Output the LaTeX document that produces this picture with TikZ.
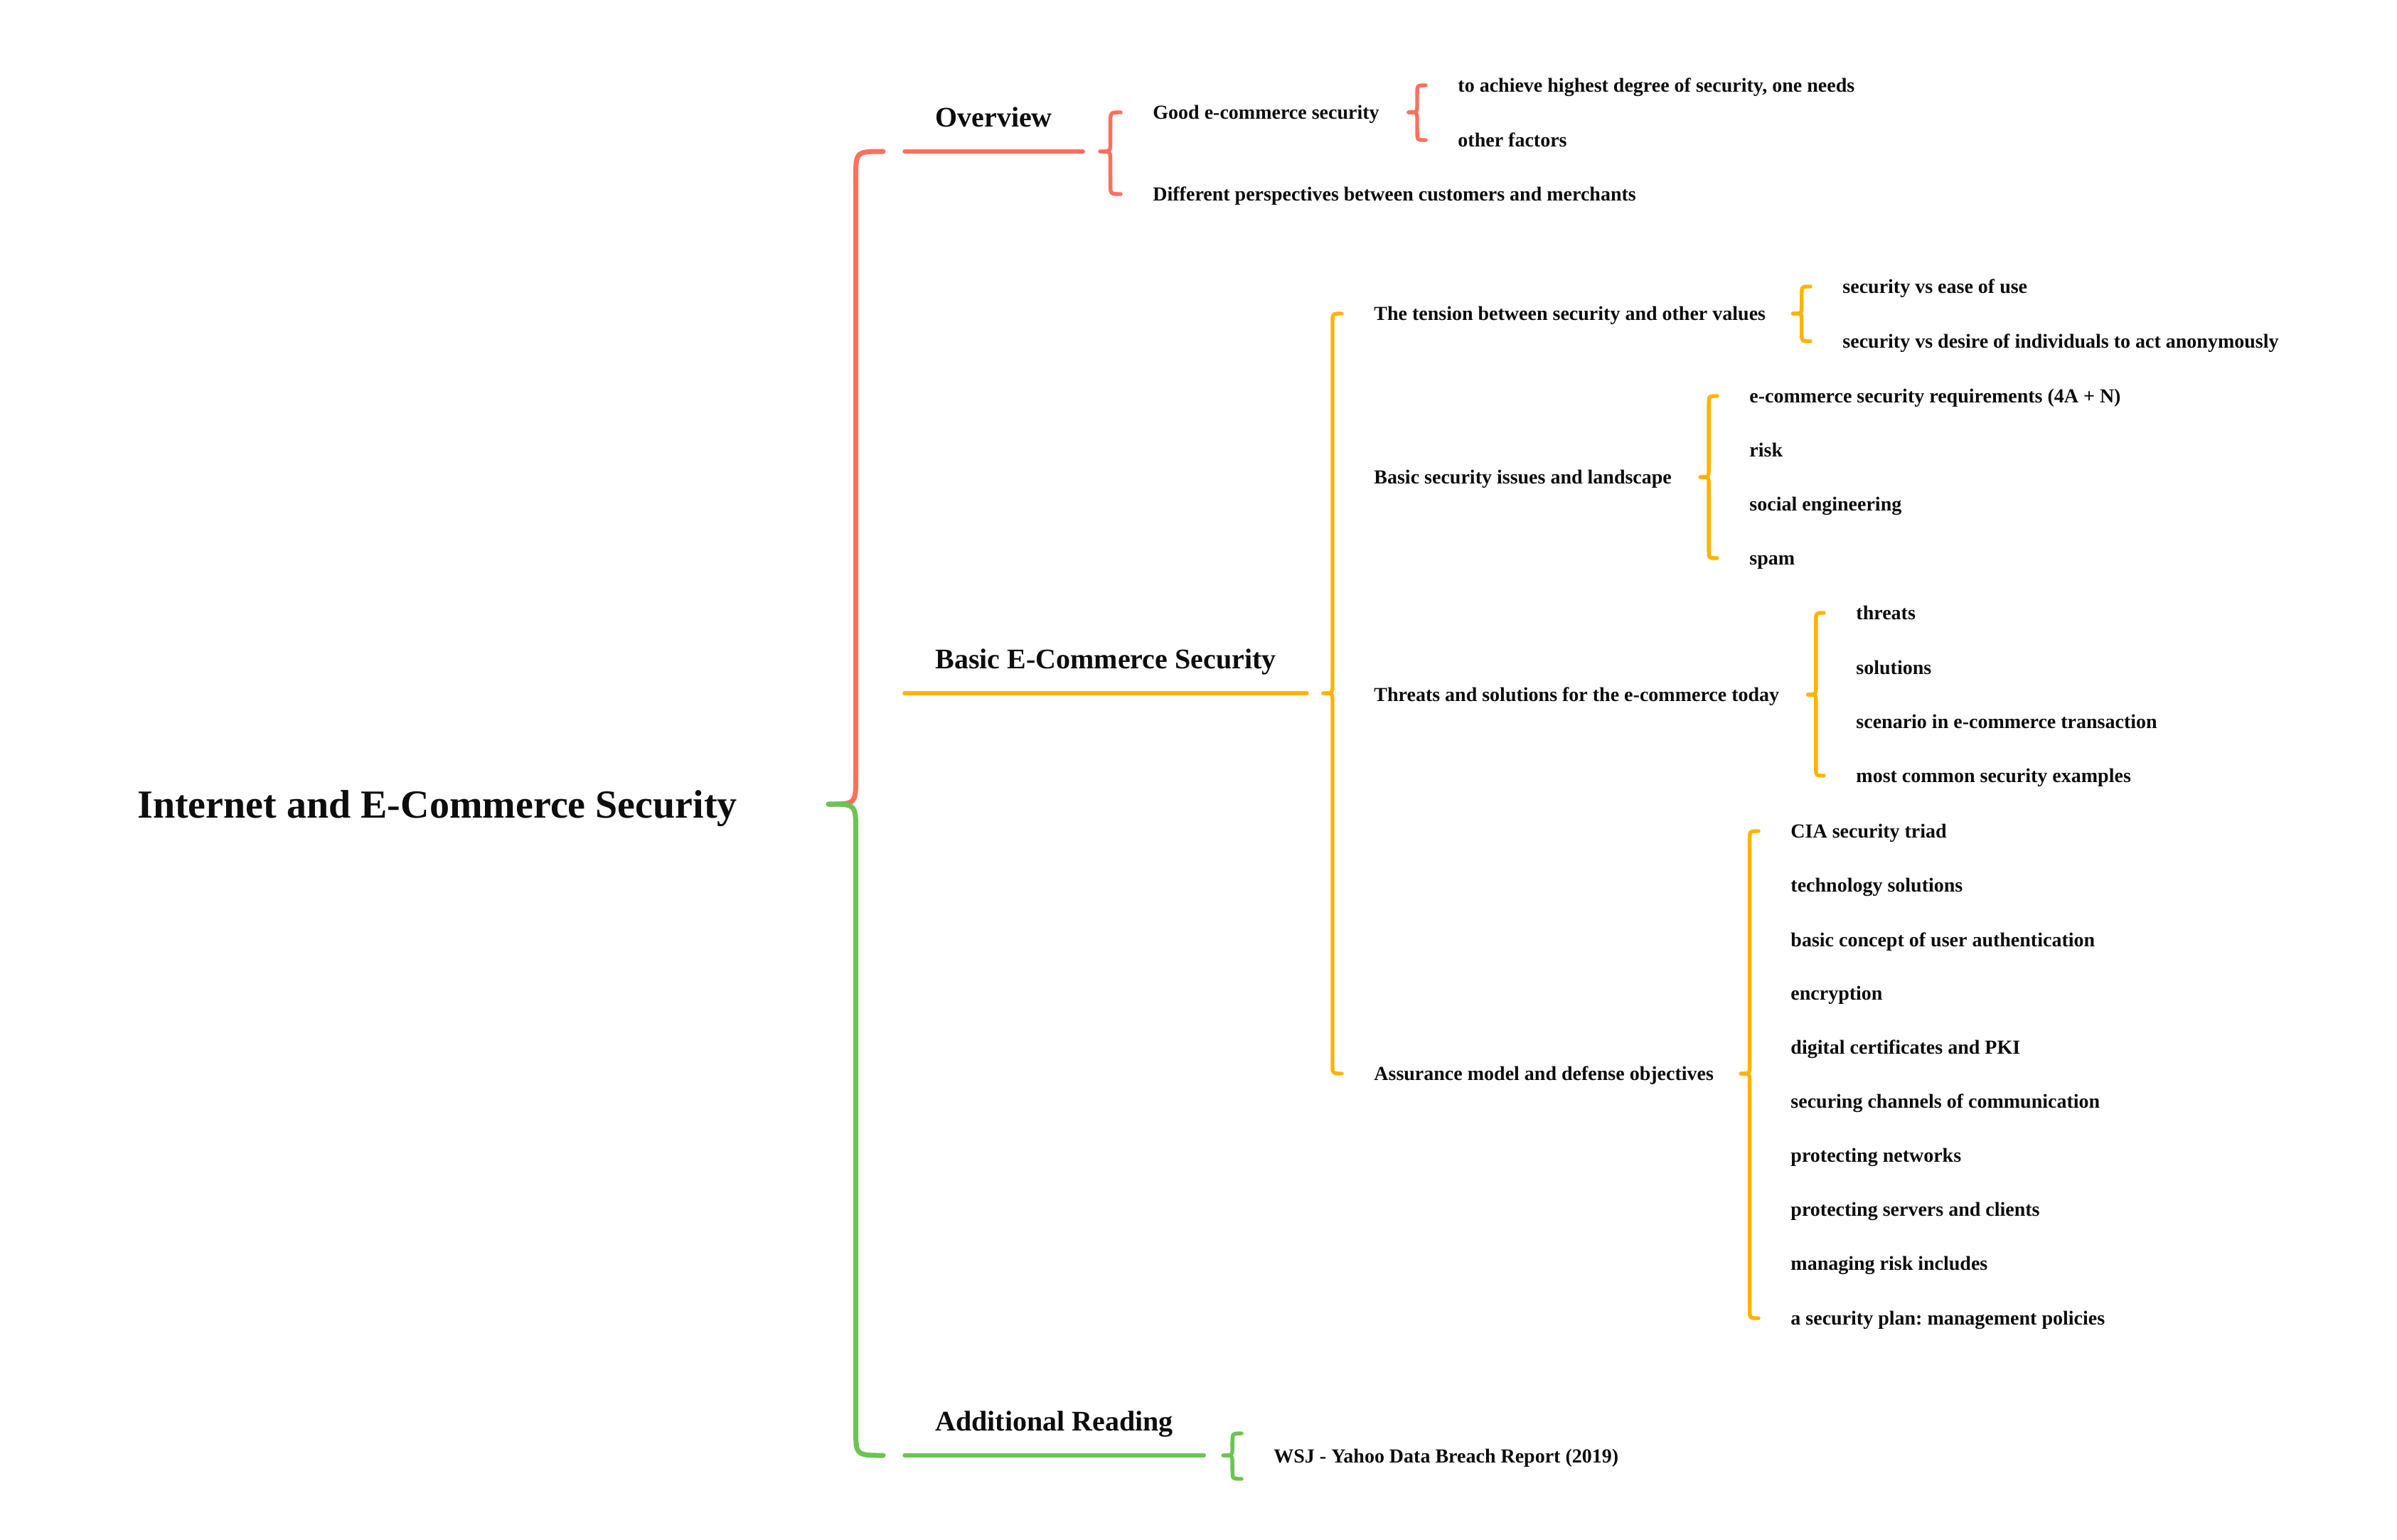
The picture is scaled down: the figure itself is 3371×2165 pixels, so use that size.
\documentclass[tikz,border=0pt]{standalone}
\usepackage{fontspec}
\setmainfont{Liberation Serif}
\usepackage{tikz}
\usetikzlibrary{calc, positioning}
\usepackage{xcolor}
\definecolor{mmred}{HTML}{FF6F5E}
\definecolor{mmyellow}{HTML}{FFB300}
\definecolor{mmgreen}{HTML}{6BC450}
\frenchspacing

% one half of a curly brace, from its tip to one end
\newcommand{\halfbrace}[3]{%
  \draw[#1] let \p1=(#2), \p2=(#3), \n1={(\x2-\x1)/2}, \n2={sign(\y2-\y1)*(\x2-\x1)/2} in
    (\p1) .. controls (\x1+\n1,\y1) .. (\x1+\n1,\y1+\n2)
    -- (\x1+\n1,\y2-\n2) .. controls (\x1+\n1,\y2) .. (\p2);}
\newcommand{\mmbrace}[4]{\halfbrace{#1}{#2}{#3}\halfbrace{#1}{#2}{#4}}

\begin{document}
\begin{tikzpicture}[x=0.5pt, y=-0.5pt, line cap=round, line join=round]
\tikzstyle{root node}=[anchor=west, inner sep=0, text=black!95, font=\fontsize{28}{32}\selectfont\bfseries, text height=20pt, text depth=6pt]
\tikzstyle{branch node}=[anchor=south west, inner xsep=21.5pt, inner ysep=13pt, text=black!95, font=\fontsize{20}{24}\selectfont\bfseries, text height=14pt, text depth=4pt]
\tikzstyle{leaf node}=[anchor=west, inner sep=0, text=black!95, font=\fontsize{14}{17}\selectfont\bfseries, text height=12pt, text depth=3pt]
\tikzstyle{root line}=[line width=3.5pt]
\tikzstyle{red line}=[mmred, line width=2.7pt]
\tikzstyle{yellow line}=[mmyellow, line width=2.7pt]
\tikzstyle{green line}=[mmgreen, line width=2.7pt]

\useasboundingbox (0,0) rectangle (3371,2165);

% root and main branches
\node[root node] (root) at (193,1136) {Internet and E-Commerce Security};
\node[branch node] (ov) at (1272,213) {Overview};
\node[branch node] (bs) at (1272,975) {Basic E-Commerce Security};
\node[branch node] (ad) at (1272,2047) {Additional Reading};

\draw[red line] (ov.south west) -- (ov.south east);
\draw[yellow line] (bs.south west) -- (bs.south east);
\draw[green line] (ad.south west) -- (ad.south east);

\coordinate (rootT) at (1165,1131);
\coordinate (ovE) at ($(ov.south west)+(-30,0)$);
\coordinate (adE) at ($(ad.south west)+(-30,0)$);
\halfbrace{root line, mmred}{rootT}{ovE}
\halfbrace{root line, mmgreen}{rootT}{adE}

% Overview
\node[leaf node] (good) at (1621,158) {Good e-commerce security};
\node[leaf node] (diff) at (1621,273) {Different perspectives between customers and merchants};
\node[leaf node] (ach) at (2050,120) {to achieve highest degree of security, one needs};
\node[leaf node] (oth) at (2050,197) {other factors};

\coordinate (ovT) at ($(ov.south east)+(24,0)$);
\mmbrace{red line}{ovT}{$(good.west)+(-45,0)$}{$(diff.west)+(-45,0)$}
\coordinate (goodT) at ($(good.east)+(41,0)$);
\mmbrace{red line}{goodT}{$(ach.west)+(-45,0)$}{$(oth.west)+(-45,0)$}

% Basic E-Commerce Security
\node[leaf node] (tens) at (1932,441) {The tension between security and other values};
\node[leaf node] (iss) at (1932,671) {Basic security issues and landscape};
\node[leaf node] (thr) at (1932,977) {Threats and solutions for the e-commerce today};
\node[leaf node] (asr) at (1932,1510) {Assurance model and defense objectives};

\coordinate (bsT) at ($(bs.south east)+(23,0)$);
\mmbrace{yellow line}{bsT}{$(tens.west)+(-45,0)$}{$(asr.west)+(-45,0)$}

\node[leaf node] (ease) at (2591,403) {security vs ease of use};
\node[leaf node] (anon) at (2591,480) {security vs desire of individuals to act anonymously};
\coordinate (tensT) at ($(tens.east)+(38,0)$);
\mmbrace{yellow line}{tensT}{$(ease.west)+(-45,0)$}{$(anon.west)+(-45,0)$}

\node[leaf node] (req) at (2460,557) {e-commerce security requirements (4A + N)};
\node[leaf node] (risk) at (2460,633) {risk};
\node[leaf node] (soc) at (2460,709) {social engineering};
\node[leaf node] (spam) at (2460,785) {spam};
\coordinate (issT) at ($(iss.east)+(40,0)$);
\mmbrace{yellow line}{issT}{$(req.west)+(-45,0)$}{$(spam.west)+(-45,0)$}

\node[leaf node] (thrt) at (2610,862) {threats};
\node[leaf node] (sol) at (2610,939) {solutions};
\node[leaf node] (scn) at (2610,1015) {scenario in e-commerce transaction};
\node[leaf node] (comm) at (2610,1091) {most common security examples};
\coordinate (thrT) at ($(thr.east)+(40,0)$);
\mmbrace{yellow line}{thrT}{$(thrt.west)+(-45,0)$}{$(comm.west)+(-45,0)$}

\node[leaf node] (cia) at (2518,1169) {CIA security triad};
\node[leaf node] (tech) at (2518,1245) {technology solutions};
\node[leaf node] (auth) at (2518,1322) {basic concept of user authentication};
\node[leaf node] (enc) at (2518,1397) {encryption};
\node[leaf node] (cert) at (2518,1473) {digital certificates and PKI};
\node[leaf node] (chan) at (2518,1549) {securing channels of communication};
\node[leaf node] (net) at (2518,1625) {protecting networks};
\node[leaf node] (serv) at (2518,1701) {protecting servers and clients};
\node[leaf node] (mrisk) at (2518,1777) {managing risk includes};
\node[leaf node] (plan) at (2518,1854) {a security plan: management policies};
\coordinate (asrT) at ($(asr.east)+(38,0)$);
\mmbrace{yellow line}{asrT}{$(cia.west)+(-45,0)$}{$(plan.west)+(-45,0)$}

% Additional Reading
\node[leaf node] (wsj) at (1791,2048) {WSJ - Yahoo Data Breach Report (2019)};
\coordinate (adT) at ($(ad.south east)+(27,0)$);
\mmbrace{green line}{adT}{$(wsj.west)+(-45,-32)$}{$(wsj.west)+(-45,32)$}
\end{tikzpicture}
\end{document}
